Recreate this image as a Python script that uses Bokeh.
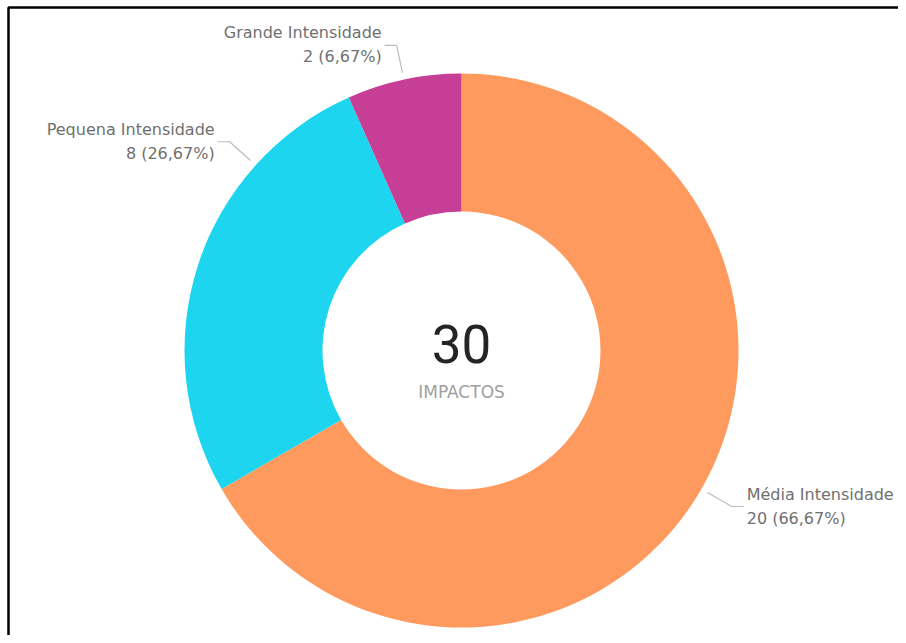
import math
from bokeh.plotting import figure
from bokeh.models import Range1d, ColumnDataSource
from bokeh.core.properties import value
from bokeh.embed import file_html
from bokeh.resources import INLINE

# ---- data ----
categories = ["Média Intensidade", "Pequena Intensidade", "Grande Intensidade"]
counts = [20, 8, 2]
pct_labels = ["66,67%", "26,67%", "6,67%"]
colors = ["#FF9A5F", "#1DD5EE", "#C63E95"]
center_value_label = "30"
center_caption = "IMPACTOS"

# ---- layout ----
W, H = 898, 635
cx, cy = 461, 285          # donut centre (data units = px)
r_out, r_in = 277, 139
lead_r0, lead_r1, lead_h = 284, 312, 12
label_angle_offset = [0, -24, 0]   # degrees, Power BI label nudging
FONT = "DejaVu Sans"
LABEL_SIZE = "16px"
LABEL_COLOR = "#707070"
frame_left, frame_top = 8, H - 7

total = sum(counts)
starts, ends, mids = [], [], []
cum = 0
for c in counts:
    a0 = math.pi / 2 - 2 * math.pi * (cum + c) / total
    a1 = math.pi / 2 - 2 * math.pi * cum / total
    starts.append(a0)
    ends.append(a1)
    mids.append((a0 + a1) / 2)
    cum += c

p = figure(width=W, height=H, output_backend="svg", toolbar_location=None,
           x_range=Range1d(0, W), y_range=Range1d(0, H), min_border=0,
           tools="")
p.axis.visible = False
p.grid.visible = False
p.outline_line_color = None
p.background_fill_color = "white"

src = ColumnDataSource(dict(start=starts, end=ends, color=colors))
p.annular_wedge(x=cx, y=cy, inner_radius=r_in, outer_radius=r_out,
                start_angle="start", end_angle="end", color="color",
                line_color=None, source=src)

# leader lines and labels
for i, cat in enumerate(categories):
    a = mids[i] + math.radians(label_angle_offset[i])
    x0, y0 = cx + lead_r0 * math.cos(a), cy + lead_r0 * math.sin(a)
    x1, y1 = cx + lead_r1 * math.cos(a), cy + lead_r1 * math.sin(a)
    side = 1 if math.cos(a) >= 0 else -1
    x2 = x1 + side * lead_h
    p.line([x0, x1, x2], [y0, y1, y1], line_color="#BDBDBD", line_width=1.2)
    tx = x2 + side * 3
    align = "left" if side > 0 else "right"
    p.text([tx], [y1 + 12.5], text=[cat], text_align=align, text_baseline="middle",
           text_font=value(FONT), text_font_size=LABEL_SIZE, text_color=LABEL_COLOR)
    p.text([tx], [y1 - 11.5], text=[f"{counts[i]} ({pct_labels[i]})"], text_align=align,
           text_baseline="middle", text_font=value(FONT), text_font_size=LABEL_SIZE,
           text_color=LABEL_COLOR)

# centre texts
p.text([cx], [cy + 7], text=[center_value_label], text_align="center", text_baseline="middle",
       text_font=value("Roboto"), text_font_size="53px", text_color="#252423")
p.text([cx], [cy - 41], text=[center_caption], text_align="center", text_baseline="middle",
       text_font=value(FONT), text_font_size="17px", text_color="#A0A0A0")

# frame (top and left border of the visual container)
p.line([frame_left, frame_left, W + 10], [-10, frame_top, frame_top],
       line_color="black", line_width=2.5)

open("out.html", "w").write(file_html(p, INLINE))
